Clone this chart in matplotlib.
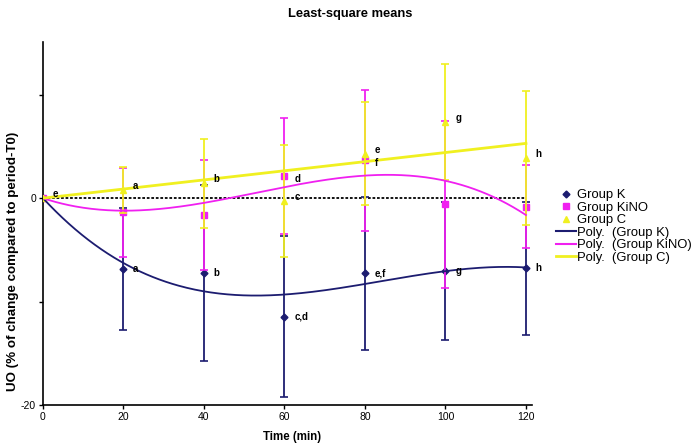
import numpy as np
import matplotlib
matplotlib.use("Agg")
import matplotlib.pyplot as plt
from matplotlib.lines import Line2D

plt.rcParams['font.family'] = ['Liberation Sans', 'DejaVu Sans']

time = [0, 20, 40, 60, 80, 100, 120]
k_mean = [0, -6.86, -7.25, -11.47, -7.28, -7.05, -6.8]
k_err = [0, 5.9, 8.5, 7.8, 7.4, 6.65, 6.4]
kino_mean = [0, -1.36, -1.64, 2.16, 3.67, -0.61, -0.84]
kino_err = [0, 4.3, 5.3, 5.6, 6.8, 8.1, 4.0]
c_mean = [0, 0.77, 1.45, -0.26, 4.3, 7.37, 3.9]
c_err = [0, 2.2, 4.3, 5.4, 5.0, 5.6, 6.5]

k_labels = ["", "a", "b", "c,d", "e,f", "g", "h"]
kino_labels = ["", "", "", "d", "f", "", ""]
c_labels = ["e", "a", "b", "c", "e", "g", "h"]

yticks = [-20, -10, 0, 10]
ytick_labels = ["-20", "", "0", ""]
xticks = [0, 20, 40, 60, 80, 100, 120]

col_k = "#1c1c70"
col_kino = "#f020f0"
col_c = "#f0f020"

fig = plt.figure(figsize=(7.0, 4.47), dpi=100)
ax = fig.add_axes([0.0614, 0.094, 0.6986, 0.812])

t = np.array(time, dtype=float)


def fit_zero(y, deg):
    A = np.vstack([t ** p for p in range(1, deg + 1)]).T
    coef, *_ = np.linalg.lstsq(A, np.array(y, dtype=float), rcond=None)
    tt = np.linspace(0, 120, 300)
    yy = sum(c * tt ** (i + 1) for i, c in enumerate(coef))
    return tt, yy


ax.plot([0, 120], [0, 0], color="black", linestyle=(0, (1.5, 1)), lw=1.3, zorder=1)

ax.errorbar(time, k_mean, yerr=k_err, fmt="D", ms=3.5, color=col_k, ecolor=col_k,
            elinewidth=1.3, capsize=3, capthick=1.2, zorder=2)
ax.errorbar(time, kino_mean, yerr=kino_err, fmt="s", ms=5, color=col_kino, ecolor=col_kino,
            elinewidth=1.3, capsize=3, capthick=1.2, zorder=3)
ax.errorbar(time, c_mean, yerr=c_err, fmt="^", ms=5, color=col_c, ecolor=col_c,
            elinewidth=1.3, capsize=3, capthick=1.2, zorder=4)

tt, yy = fit_zero(k_mean, 3)
ax.plot(tt, yy, color=col_k, lw=1.3, zorder=5)
tt, yy = fit_zero(kino_mean, 3)
ax.plot(tt, yy, color=col_kino, lw=1.3, zorder=5)
tt, yy = fit_zero(c_mean, 1)
ax.plot(tt, yy, color=col_c, lw=2, zorder=5)

for xs, ys, labs, dy in [(time, k_mean, k_labels, 0), (time, kino_mean, kino_labels, -2),
                         (time, c_mean, c_labels, 3)]:
    for x, y, s in zip(xs, ys, labs):
        if s:
            ax.annotate(s, (x, y), xytext=(7, dy), textcoords="offset points",
                        fontsize=7, fontweight="bold", va="center", ha="left", zorder=6)

ax.set_xlim(0, 121.5)
ax.set_ylim(-20, 15.1)
ax.set_xticks(xticks)
ax.set_yticks(yticks)
ax.set_yticklabels(ytick_labels)
ax.tick_params(axis="both", labelsize=7.5, length=3, width=1, direction="out", pad=2)
for s in ["top", "right"]:
    ax.spines[s].set_visible(False)
for s in ["left", "bottom"]:
    ax.spines[s].set_linewidth(1.2)

ax.set_xlabel("Time (min)", fontsize=8.3, fontweight="bold")
ax.xaxis.set_label_coords(0.509, -0.072)
ax.set_ylabel("UO (% of change compared to period-T0)", fontsize=9.6, fontweight="bold")
ax.yaxis.set_label_coords(-0.049, 0.397)
fig.text(0.5, 0.968, "Least-square means", ha="center", va="center", fontsize=9.3, fontweight="bold")

handles = [
    Line2D([], [], marker="D", color=col_k, ls="none", ms=3.5),
    Line2D([], [], marker="s", color=col_kino, ls="none", ms=5),
    Line2D([], [], marker="^", color=col_c, ls="none", ms=5),
    Line2D([], [], color=col_k, lw=1.5),
    Line2D([], [], color=col_kino, lw=1.5),
    Line2D([], [], color=col_c, lw=2),
]
labels = ["Group K", "Group KiNO", "Group C", "Poly.  (Group K)", "Poly.  (Group KiNO)", "Poly.  (Group C)"]
fig.legend(handles, labels, loc="center left", bbox_to_anchor=(0.794, 0.493), frameon=False,
           fontsize=9.4, handlelength=1.55, handletextpad=0.1, labelspacing=0.03, borderpad=0,
           borderaxespad=0)

fig.savefig("out.png", dpi=100)
